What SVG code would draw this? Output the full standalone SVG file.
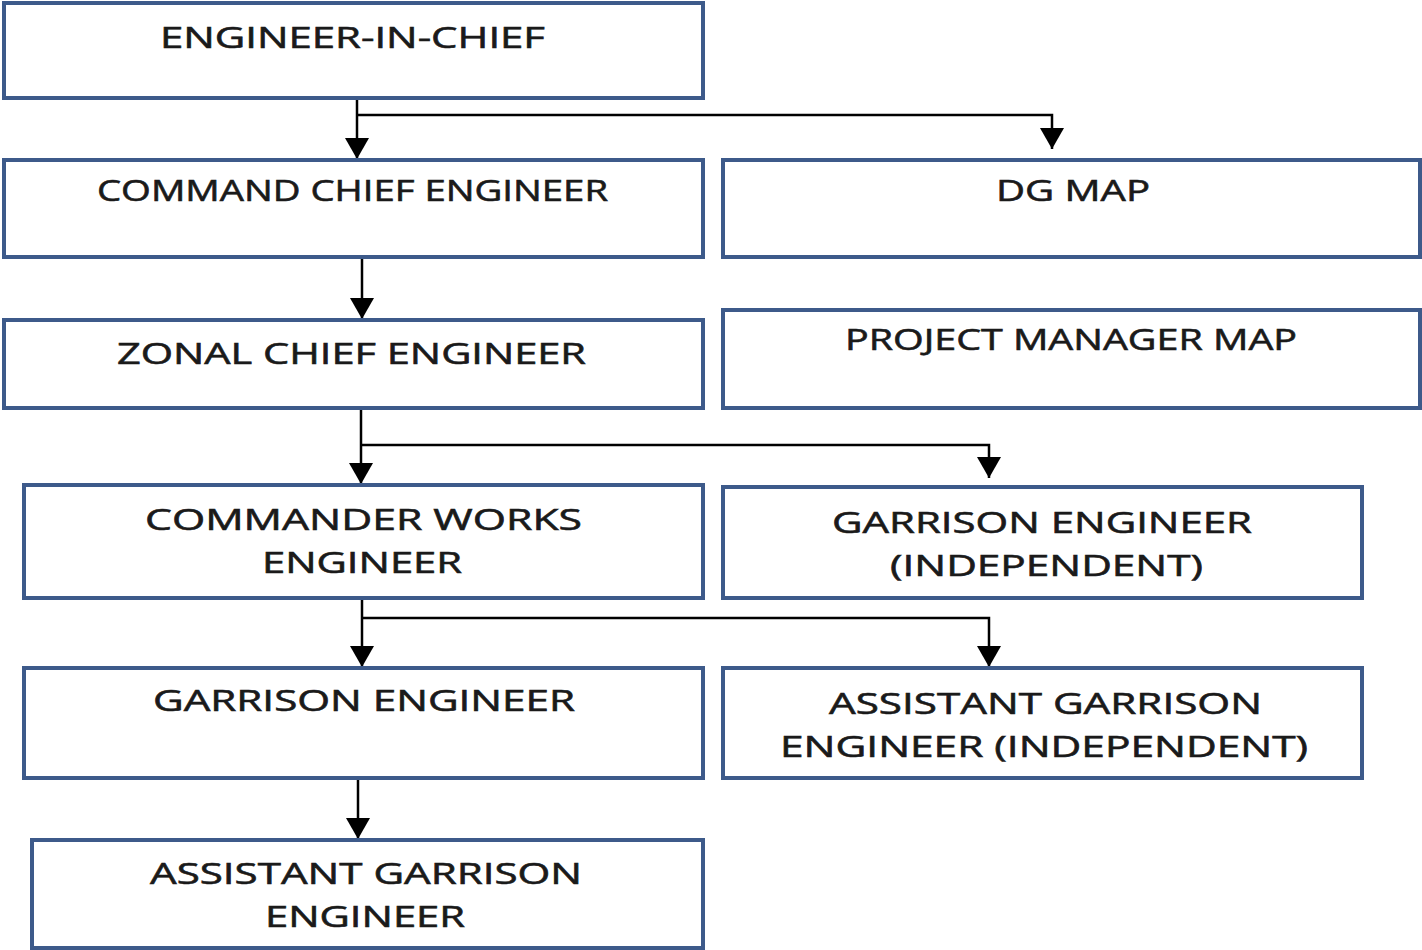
<svg xmlns="http://www.w3.org/2000/svg" width="1422" height="950" viewBox="0 0 1422 950">
<style>
.box{fill:#ffffff;stroke:#3d5a8a;stroke-width:4}
.t{font-family:"Open Sans","Liberation Sans",sans-serif;font-size:30px;fill:#1a1a1a;stroke:#1a1a1a;stroke-width:0.6;text-anchor:start}
.c{fill:none;stroke:#000000;stroke-width:2.5}
</style>
<defs>
<marker id="a" markerUnits="userSpaceOnUse" markerWidth="22" markerHeight="26" viewBox="0 0 22 26" refX="21" refY="13" orient="auto">
<path d="M0,1 L21,13 L0,25 Z" fill="#000"/>
</marker>
</defs>
<rect width="1422" height="950" fill="#ffffff"/>
<g id="connectors">
<path class="c" d="M357,98 V159" marker-end="url(#a)"/>
<path class="c" d="M357,115 H1052 V149" marker-end="url(#a)"/>
<path class="c" d="M362,257 V319" marker-end="url(#a)"/>
<path class="c" d="M361,408 V484" marker-end="url(#a)"/>
<path class="c" d="M361,445 H989 V478" marker-end="url(#a)"/>
<path class="c" d="M362,598 V667" marker-end="url(#a)"/>
<path class="c" d="M362,618 H989 V667" marker-end="url(#a)"/>
<path class="c" d="M358,778 V839" marker-end="url(#a)"/>
</g>
<g id="n-eic">
<rect class="box" x="4" y="3" width="699" height="95"/>
<text class="t" x="160" y="48" textLength="385" lengthAdjust="spacingAndGlyphs">ENGINEER-IN-CHIEF</text>
</g>
<g id="n-cce">
<rect class="box" x="4" y="160" width="699" height="97"/>
<text class="t" x="97" y="201" font-size="27" textLength="511" lengthAdjust="spacingAndGlyphs">COMMAND CHIEF ENGINEER</text>
</g>
<g id="n-dgmap">
<rect class="box" x="723" y="160" width="697" height="97"/>
<text class="t" x="996" y="201" font-size="27" textLength="154" lengthAdjust="spacingAndGlyphs">DG MAP</text>
</g>
<g id="n-zce">
<rect class="box" x="4" y="320" width="699" height="88"/>
<text class="t" x="117" y="364" textLength="469" lengthAdjust="spacingAndGlyphs">ZONAL CHIEF ENGINEER</text>
</g>
<g id="n-pmmap">
<rect class="box" x="723" y="310" width="697" height="98"/>
<text class="t" x="845" y="350" font-size="28" textLength="452" lengthAdjust="spacingAndGlyphs">PROJECT MANAGER MAP</text>
</g>
<g id="n-cwe">
<rect class="box" x="24" y="485" width="679" height="113"/>
<text class="t" x="145" y="530" textLength="437" lengthAdjust="spacingAndGlyphs">COMMANDER WORKS</text>
<text class="t" x="262" y="573" textLength="200" lengthAdjust="spacingAndGlyphs">ENGINEER</text>
</g>
<g id="n-gei">
<rect class="box" x="723" y="487" width="639" height="111"/>
<text class="t" x="832" y="533" textLength="420" lengthAdjust="spacingAndGlyphs">GARRISON ENGINEER</text>
<text class="t" x="890" y="576" textLength="313" lengthAdjust="spacingAndGlyphs">(INDEPENDENT)</text>
</g>
<g id="n-ge">
<rect class="box" x="24" y="668" width="679" height="110"/>
<text class="t" x="153" y="711" textLength="422" lengthAdjust="spacingAndGlyphs">GARRISON ENGINEER</text>
</g>
<g id="n-agei">
<rect class="box" x="723" y="668" width="639" height="110"/>
<text class="t" x="829" y="714" textLength="433" lengthAdjust="spacingAndGlyphs">ASSISTANT GARRISON</text>
<text class="t" x="780" y="757" textLength="528" lengthAdjust="spacingAndGlyphs">ENGINEER (INDEPENDENT)</text>
</g>
<g id="n-age">
<rect class="box" x="32" y="840" width="671" height="108"/>
<text class="t" x="150" y="884" textLength="432" lengthAdjust="spacingAndGlyphs">ASSISTANT GARRISON</text>
<text class="t" x="265" y="927" textLength="200" lengthAdjust="spacingAndGlyphs">ENGINEER</text>
</g>
</svg>
